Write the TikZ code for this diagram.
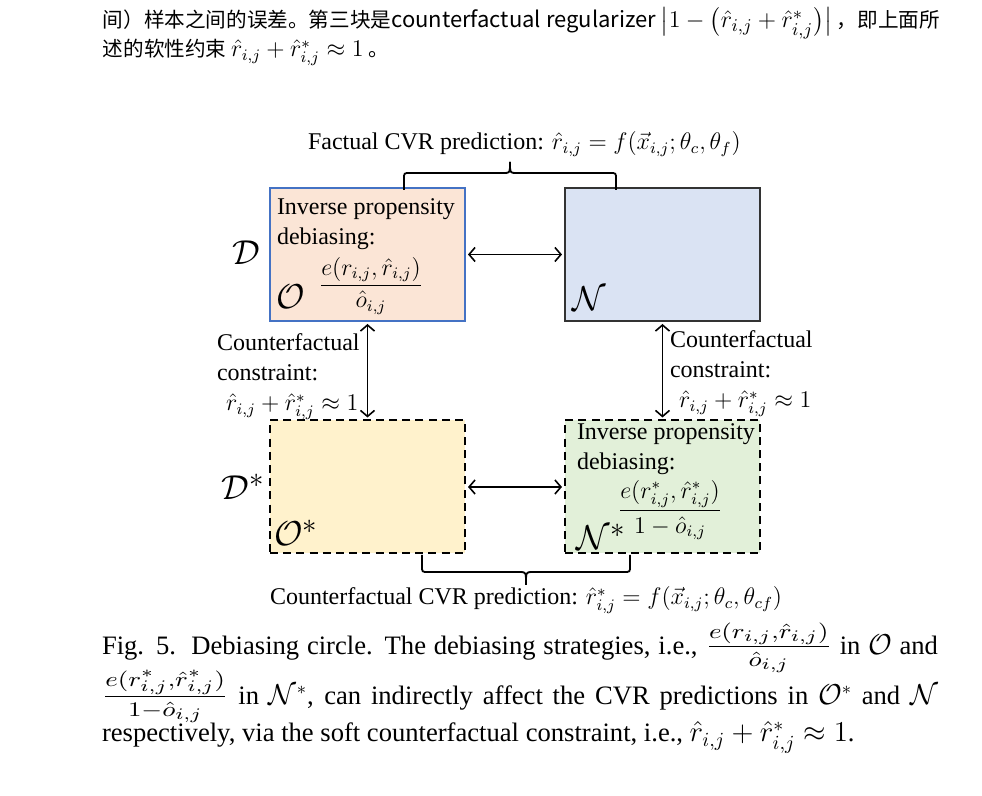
\documentclass[tikz,border=0pt]{standalone}
\usepackage{amsmath}
\usepackage{graphicx}
\usepackage{fontspec}
\setmainfont{Liberation Serif}
\newfontfamily\cjkfont{Noto Sans CJK SC}
\usetikzlibrary{arrows.meta,calc}

\definecolor{ipwblue}{HTML}{4472C4}
\definecolor{obsfill}{HTML}{FBE5D6}
\definecolor{nonfill}{HTML}{DAE3F3}
\definecolor{obscffill}{HTML}{FFF2CC}
\definecolor{noncffill}{HTML}{E2F0D9}

\newcommand{\capfrac}[2]{\scalebox{1.45}[1.15]{$\frac{#1}{#2}$}}

\begin{document}
\begin{tikzpicture}[x=0.5pt,y=-0.5pt,
    every node/.style={inner sep=0pt,outer sep=0pt},
    region/.style={minimum width=97.5pt,minimum height=66.5pt,line width=1pt},
    cfregion/.style={region,draw=black,dash pattern=on 4pt off 2.6pt},
    lbl/.style={font=\fontsize{12}{15}\selectfont,align=left},
    setname/.style={font=\fontsize{19}{20}\selectfont},
    captext/.style={anchor=base west,font=\fontsize{13.3}{16}\selectfont},
    twoway/.style={{Straight Barb[length=3pt,width=7pt]}-{Straight Barb[length=3pt,width=7pt]},
        line width=0.8pt,shorten <=1.5pt,shorten >=1.5pt},
    curly/.style={line width=0.9pt}]
\useasboundingbox (0,0) rectangle (982,796);

% text above the figure
\node[anchor=base west,font=\cjkfont\fontsize{10.3}{12}\selectfont] (para1) at (103,28)
    {间）样本之间的误差。第三块是{\fontsize{11}{12}\selectfont counterfactual regularizer} {\fontsize{13}{14}\selectfont$\bigl|1-\bigl(\hat{r}_{i,j}+\hat{r}^{*}_{i,j}\bigr)\bigr|$} ，即上面所};
\node[anchor=base west,font=\cjkfont\fontsize{10.3}{12}\selectfont] (para2) at (103,57)
    {述的软性约束 {\fontsize{12}{14}\selectfont$\hat{r}_{i,j}+\hat{r}^{*}_{i,j}\approx 1$} 。};

% the four regions
\node[region,draw=ipwblue,fill=obsfill] (O) at (367.5,254.5) {};
\node[region,draw=black!80,fill=nonfill] (N) at (662.5,254.5) {};
\node[cfregion,fill=obscffill] (Ocf) at (367.5,487) {};
\node[cfregion,fill=noncffill] (Ncf) at (662.5,487) {};

\draw[twoway] (O) -- (N);
\draw[twoway] (Ocf) -- (Ncf);
\draw[twoway] (O) -- (Ocf);
\draw[twoway] (N) -- (Ncf);

% debiasing terms
\node[lbl,anchor=north west] (ipw) at (277,199) {Inverse propensity\\debiasing:};
\node[font=\fontsize{12}{14}\selectfont] (ipwfrac) at (371,286)
    {$\dfrac{e(r_{i,j},\hat{r}_{i,j})}{\hat{o}_{i,j}}$};
\node[lbl,anchor=north west] (ipwcf) at (577,424) {Inverse propensity\\debiasing:};
\node[font=\fontsize{12}{14}\selectfont] (ipwcffrac) at (670,510)
    {$\dfrac{e(r^{*}_{i,j},\hat{r}^{*}_{i,j})}{1-\hat{o}_{i,j}}$};

% set names
\node[setname] (D) at (246,253) {$\mathcal{D}$};
\node[setname] (Dcf) at (243,487) {$\mathcal{D}^{*}$};
\node[setname] (Oname) at (291,297) {$\mathcal{O}$};
\node[setname] (Ocfname) at (296,533) {$\mathcal{O}^{*}$};
\node[setname] (Nname) at (589,299) {$\mathcal{N}$};
\node[setname] (Ncfname) at (601,537) {$\mathcal{N}^{*}$};

% constraints
\node[lbl,anchor=north west] (cfleft) at (217,334)
    {Counterfactual\\constraint:\\\hspace{4.5pt}$\hat{r}_{i,j}+\hat{r}^{*}_{i,j}\approx 1$};
\node[lbl,anchor=north west] (cfright) at (670,331)
    {Counterfactual\\constraint:\\\hspace{4.5pt}$\hat{r}_{i,j}+\hat{r}^{*}_{i,j}\approx 1$};

% braces and predictions
\node[anchor=base west,font=\fontsize{12}{14}\selectfont] (facttitle) at (308,150)
    {Factual CVR prediction: $\hat{r}_{i,j}=f(\vec{x}_{i,j};\theta_c,\theta_f)$};
\draw[curly] (404,190) -- (404,179) .. controls (404,173) .. (410,173) -- (504,173)
    .. controls (510,173) .. (510,162);
\draw[curly] (616,190) -- (616,179) .. controls (616,173) .. (610,173) -- (516,173)
    .. controls (510,173) .. (510,162);

\draw[curly] (422,555) -- (422,566) .. controls (422,572) .. (428,572) -- (520,572)
    .. controls (526,572) .. (526,585);
\draw[curly] (630,555) -- (630,566) .. controls (630,572) .. (624,572) -- (532,572)
    .. controls (526,572) .. (526,585);
\node[anchor=base west,font=\fontsize{12}{14}\selectfont] (cftitle) at (270,605)
    {Counterfactual CVR prediction: $\hat{r}^{*}_{i,j}=f(\vec{x}_{i,j};\theta_c,\theta_{cf})$};

% caption
\node[captext] (cap1) at (102,655)
    {\makebox[418pt][s]{Fig. 5.\ \ Debiasing circle. The debiasing strategies, i.e., \capfrac{e(r_{i,j},\hat{r}_{i,j})}{\hat{o}_{i,j}} in $\mathcal{O}$ and}};
\node[captext] (cap2) at (102,705)
    {\makebox[418pt][s]{\capfrac{e(r^{*}_{i,j},\hat{r}^{*}_{i,j})}{1-\hat{o}_{i,j}} in $\mathcal{N}^{*}$, can indirectly affect the CVR predictions in $\mathcal{O}^{*}$ and $\mathcal{N}$}};
\node[captext] (cap3) at (102,742)
    {respectively, via the soft counterfactual constraint, i.e., {\fontsize{14.5}{16}\selectfont$\hat{r}_{i,j}+\hat{r}^{*}_{i,j}\approx 1$}.};
\end{tikzpicture}
\end{document}
